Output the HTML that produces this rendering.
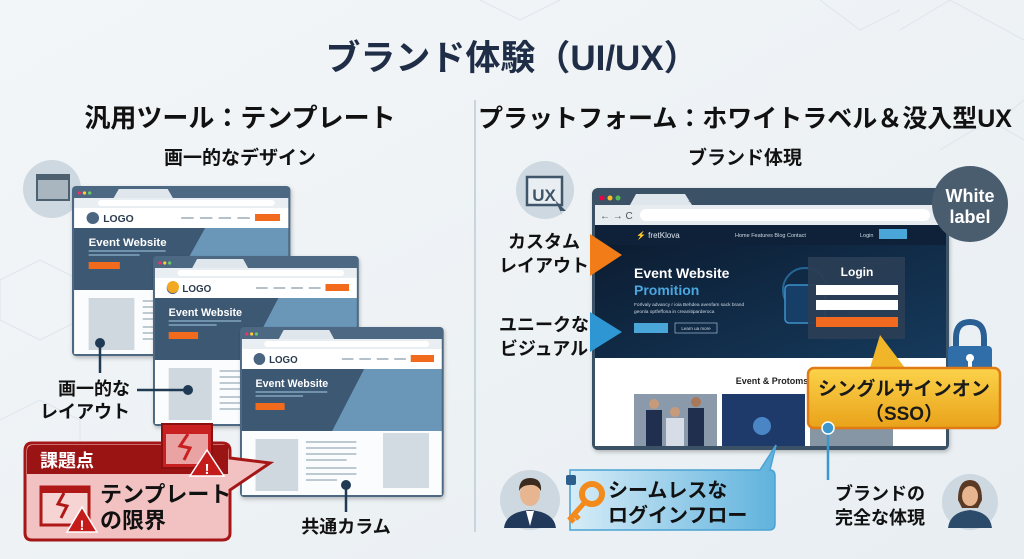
<!DOCTYPE html>
<html><head><meta charset="utf-8"><style>
html,body{margin:0;padding:0;background:#eef3f6;}
svg{display:block;font-family:"Liberation Sans","Noto Sans CJK JP",sans-serif;}
</style></head><body>
<svg width="1024" height="559" viewBox="0 0 1024 559" xmlns="http://www.w3.org/2000/svg">
<defs>
<linearGradient id="bg" x1="0" y1="0" x2="1" y2="1"><stop offset="0" stop-color="#f3f6f8"/><stop offset="1" stop-color="#e8eef2"/></linearGradient>
<linearGradient id="gold" x1="0" y1="0" x2="0" y2="1"><stop offset="0" stop-color="#fbd34a"/><stop offset="1" stop-color="#e9a21a"/></linearGradient>
<linearGradient id="blu" x1="0" y1="0" x2="1" y2="0"><stop offset="0" stop-color="#d6ecf7"/><stop offset="1" stop-color="#5fb2dd"/></linearGradient>
<linearGradient id="hero" x1="0" y1="0" x2="1" y2="1"><stop offset="0" stop-color="#0b1a2e"/><stop offset="1" stop-color="#163a5c"/></linearGradient>
<filter id="sh" x="-10%" y="-10%" width="130%" height="130%"><feDropShadow dx="1" dy="2" stdDeviation="2" flood-color="#000" flood-opacity="0.25"/></filter>
<g id="br">
<rect x="0" y="0" width="210" height="170" rx="4" fill="#4d6882"/>
<path d="M40 12 L45 3 H92 L97 12 Z" fill="#dfe6ec"/>
<circle cx="7" cy="7" r="1.6" fill="#e36"/><circle cx="12" cy="7" r="1.6" fill="#fc3"/><circle cx="17" cy="7" r="1.6" fill="#6c6"/>
<rect x="2" y="12" width="206" height="10" fill="#e9eef2"/>
<rect x="25" y="14" width="170" height="6" rx="3" fill="#fff"/>
<rect x="2" y="22" width="206" height="20" fill="#fff"/>
<circle cx="20" cy="32" r="6" fill="#4a6580"/>
<text x="30" y="36" font-size="10" font-weight="bold" fill="#2a3b4e">LOGO</text>
<g stroke="#9aabb9" stroke-width="1.5"><line x1="105" y1="32" x2="117" y2="32"/><line x1="123" y1="32" x2="135" y2="32"/><line x1="141" y1="32" x2="153" y2="32"/><line x1="159" y1="32" x2="171" y2="32"/></g>
<rect x="176" y="28" width="24" height="7" fill="#f26b1d"/>
<rect x="2" y="42" width="206" height="62" fill="#3d5873"/>
<polygon points="128,42 208,42 208,104 95,104" fill="#6a97b8"/>
<text x="16" y="60" font-size="11" font-weight="bold" fill="#fff">Event Website</text>
<line x1="16" y1="65" x2="90" y2="65" stroke="#8fb3d0" stroke-width="1.2"/>
<line x1="16" y1="69" x2="65" y2="69" stroke="#8fb3d0" stroke-width="1.2"/>
<rect x="16" y="76" width="30" height="7" fill="#f26b1d"/>
<rect x="2" y="104" width="206" height="64" fill="#fbfcfd"/>
<rect x="16" y="112" width="44" height="52" fill="#cfd8df"/>
<g stroke="#9aabb9" stroke-width="1.3"><line x1="68" y1="115" x2="120" y2="115"/><line x1="68" y1="121" x2="120" y2="121"/><line x1="68" y1="127" x2="120" y2="127"/><line x1="68" y1="133" x2="110" y2="133"/><line x1="68" y1="141" x2="120" y2="141"/><line x1="68" y1="147" x2="120" y2="147"/><line x1="68" y1="153" x2="100" y2="153"/></g>
</g>
</defs>
<rect width="1024" height="559" fill="url(#bg)"/>
<g stroke="#dde5eb" stroke-width="1" fill="none">
<path d="M0 280 L40 260 L80 280 L80 320 L40 340 L0 320 Z"/><path d="M0 420 L40 400 L80 420 L80 460 L40 480"/>
<path d="M900 30 L950 0 M950 0 L1024 40 M1000 120 L1024 100 M940 150 L990 120 L1024 140"/>
<path d="M480 0 L520 20 L560 0 M820 0 L860 30 L900 10"/>
</g>
<text x="512" y="70" text-anchor="middle" font-size="35" font-weight="bold" fill="#1f2d47">ブランド体験（UI/UX）</text>
<text x="240" y="127" text-anchor="middle" font-size="26" font-weight="bold" fill="#111">汎用ツール：テンプレート</text>
<text x="240" y="164" text-anchor="middle" font-size="19" font-weight="bold" fill="#111">画一的なデザイン</text>
<text x="745" y="127" text-anchor="middle" font-size="25" font-weight="bold" fill="#111">プラットフォーム：ホワイトラベル＆没入型UX</text>
<text x="745" y="164" text-anchor="middle" font-size="19" font-weight="bold" fill="#111">ブランド体現</text>
<line x1="475" y1="100" x2="475" y2="532" stroke="#c9d5de" stroke-width="2"/>

<circle cx="52" cy="189" r="29" fill="#cdd8e0"/>
<rect x="37" y="175" width="32" height="25" fill="#a9b6c0" stroke="#4d6170" stroke-width="2"/>
<rect x="37" y="175" width="32" height="5" fill="#4d6170"/>
<use href="#br" transform="translate(72,186) scale(1.04,1)" filter="url(#sh)"/>
<use href="#br" transform="translate(153,256) scale(0.98,1)" filter="url(#sh)"/>
<circle cx="173" cy="287" r="6" fill="#f2a921"/>
<use href="#br" transform="translate(240,327) scale(0.97,1)" filter="url(#sh)"/>
<rect x="383" y="433" width="46" height="55" fill="#d3dbe2"/>
<g stroke="#1f3a52" stroke-width="2.5"><line x1="100" y1="343" x2="100" y2="373"/><line x1="137" y1="390" x2="188" y2="390"/><line x1="346" y1="485" x2="346" y2="512"/></g>
<circle cx="100" cy="343" r="5" fill="#1f3a52"/><circle cx="188" cy="390" r="5" fill="#1f3a52"/><circle cx="346" cy="485" r="5" fill="#1f3a52"/>
<text x="130" y="395" text-anchor="end" font-size="18" font-weight="bold" fill="#111">画一的な</text>
<text x="130" y="418" text-anchor="end" font-size="18" font-weight="bold" fill="#111">レイアウト</text>
<text x="346" y="533" text-anchor="middle" font-size="18" font-weight="bold" fill="#111">共通カラム</text>
<path d="M32 443 H222 Q230 443 230 451 V458 L270 463 L230 490 V533 Q230 540 222 540 H32 Q25 540 25 533 V451 Q25 443 32 443 Z" fill="#f2c2c2" stroke="#a51616" stroke-width="3"/>
<path d="M27 451 Q27 445 33 445 H228 V474 H27 Z" fill="#9b1414"/>
<text x="40" y="467" font-size="18" font-weight="bold" fill="#fff">課題点</text>
<rect x="162" y="424" width="50" height="44" fill="#c82020" stroke="#8d1010" stroke-width="2"/>
<rect x="166" y="434" width="42" height="30" fill="#e9a3a3"/>
<path d="M188 434 L180 446 L190 448 L184 460" stroke="#c82020" stroke-width="3" fill="none"/>
<polygon points="207,450 224,476 190,476" fill="#c41b1b" stroke="#fff" stroke-width="1.5"/>
<text x="207" y="474" text-anchor="middle" font-size="15" font-weight="bold" fill="#fff">!</text>
<rect x="41" y="487" width="48" height="38" fill="#f6d4d4" stroke="#b01818" stroke-width="3"/>
<rect x="41" y="487" width="48" height="6" fill="#b01818"/>
<path d="M64 493 L58 504 L67 506 L61 518" stroke="#b01818" stroke-width="3" fill="none"/>
<polygon points="82,507 97,532 67,532" fill="#c41b1b" stroke="#fff" stroke-width="1.5"/>
<text x="82" y="530" text-anchor="middle" font-size="14" font-weight="bold" fill="#fff">!</text>
<text x="100" y="502" font-size="22" font-weight="bold" fill="#111">テンプレート</text>
<text x="100" y="528" font-size="22" font-weight="bold" fill="#111">の限界</text>

<circle cx="545" cy="190" r="29" fill="#cdd8e0"/>
<rect x="527" y="177" width="35" height="28" fill="#e9eef2" stroke="#3f5569" stroke-width="2.5"/>
<text x="544" y="201" text-anchor="middle" font-size="17" font-weight="bold" fill="#3f5569">UX</text>
<path d="M555 200 L566 211 L560 211 L563 217 Z" fill="#3f5569"/>
<text x="544" y="248" text-anchor="middle" font-size="18" font-weight="bold" fill="#111">カスタム</text>
<text x="544" y="272" text-anchor="middle" font-size="18" font-weight="bold" fill="#111">レイアウト</text>
<text x="544" y="331" text-anchor="middle" font-size="18" font-weight="bold" fill="#111">ユニークな</text>
<text x="544" y="355" text-anchor="middle" font-size="18" font-weight="bold" fill="#111">ビジュアル</text>

<g filter="url(#sh)">
<rect x="592" y="188" width="357" height="262" rx="6" fill="#3b5166"/>
</g>
<path d="M630 205 L636 194 H685 L692 205 Z" fill="#dfe6ec"/>
<text x="688" y="203" font-size="8" fill="#555">×</text>
<circle cx="602" cy="198" r="2.5" fill="#e04"/><circle cx="610" cy="198" r="2.5" fill="#fb2"/><circle cx="618" cy="198" r="2.5" fill="#5b5"/>
<rect x="595" y="205" width="351" height="20" fill="#e7ecf0"/>
<text x="600" y="219" font-size="10" fill="#555">← → C</text>
<rect x="640" y="209" width="290" height="12" rx="6" fill="#fff"/>
<rect x="595" y="225" width="351" height="133" fill="url(#hero)"/>
<rect x="595" y="225" width="351" height="20" fill="#0e2139"/>
<text x="636" y="238" font-size="8" fill="#dfe8f0">⚡ fretKlova</text>
<text x="735" y="237" font-size="5.5" fill="#cfd9e4">Home    Features    Blog    Contact</text>
<text x="860" y="237" font-size="5.5" fill="#cfd9e4">Login</text>
<rect x="879" y="229" width="28" height="10" fill="#4aa6d8"/>
<circle cx="805" cy="290" r="22" fill="none" stroke="#2f7fb8" stroke-width="2" opacity="0.7"/>
<rect x="785" y="285" width="40" height="38" rx="4" fill="#173e66" stroke="#3c91cc" stroke-width="1.5"/>
<text x="634" y="278" font-size="14" font-weight="bold" fill="#fff">Event Website</text>
<text x="634" y="295" font-size="14" font-weight="bold" fill="#4ba6df">Promition</text>
<text x="634" y="306" font-size="4.8" fill="#cfd9e4">Forlvaly advancy r ioia Behdea avenfam sack brand</text>
<text x="634" y="313" font-size="4.8" fill="#cfd9e4">geonla optfeffona in creanitiparderoca</text>
<rect x="634" y="323" width="34" height="10" fill="#4aa6d8"/>
<rect x="675" y="323" width="42" height="10" fill="none" stroke="#8fa8c0" stroke-width="0.8"/>
<text x="696" y="330" text-anchor="middle" font-size="4.5" fill="#cfd9e4">Learn ua more</text>
<rect x="808" y="257" width="97" height="82" fill="#2a3e55" opacity="0.95"/>
<text x="857" y="276" text-anchor="middle" font-size="12" font-weight="bold" fill="#fff">Login</text>
<rect x="816" y="285" width="82" height="10" fill="#fff"/>
<rect x="816" y="300" width="82" height="10" fill="#fff"/>
<rect x="816" y="317" width="82" height="10" fill="#f16a1f"/>
<rect x="595" y="358" width="351" height="88" fill="#fff"/>
<text x="772" y="384" text-anchor="middle" font-size="9" font-weight="bold" fill="#222">Event &amp; Protoms</text>
<rect x="634" y="394" width="83" height="52" fill="#8a9aab"/>
<rect x="646" y="410" width="16" height="36" fill="#1f2f4d"/><rect x="688" y="408" width="16" height="38" fill="#1f2f4d"/><rect x="666" y="418" width="18" height="28" fill="#d6dde6"/>
<circle cx="654" cy="404" r="5" fill="#c79a7a"/><circle cx="696" cy="402" r="5" fill="#a9785a"/><circle cx="675" cy="412" r="5" fill="#c79a7a"/>
<rect x="722" y="394" width="83" height="52" fill="#1d3a6a"/>
<circle cx="762" cy="426" r="9" fill="#4a86c6"/>
<rect x="810" y="394" width="83" height="52" fill="#8796a5"/>

<circle cx="970" cy="204" r="38" fill="#4a5d6f"/>
<text x="970" y="202" text-anchor="middle" font-size="18" font-weight="bold" fill="#fff">White</text>
<text x="970" y="223" text-anchor="middle" font-size="18" font-weight="bold" fill="#fff">label</text>
<path d="M956 348 V338 Q956 322 970 322 Q984 322 984 338 V348" fill="none" stroke="#2a5f93" stroke-width="6"/>
<rect x="948" y="346" width="44" height="32" rx="4" fill="#2f6ea8"/>
<circle cx="970" cy="358" r="4" fill="#fff"/><rect x="968" y="360" width="4" height="8" fill="#fff"/>
<path d="M880 335 L905 368 H870 Z" fill="#f1b52a"/>
<rect x="808" y="368" width="192" height="60" rx="6" fill="url(#gold)" stroke="#e07a14" stroke-width="2.5"/>
<text x="904" y="395" text-anchor="middle" font-size="19" font-weight="bold" fill="#1a1a1a" textLength="172" lengthAdjust="spacingAndGlyphs">シングルサインオン</text>
<text x="904" y="420" text-anchor="middle" font-size="19" font-weight="bold" fill="#1a1a1a">（SSO）</text>
<line x1="828" y1="428" x2="828" y2="480" stroke="#3c97cc" stroke-width="2.5"/>
<circle cx="828" cy="428" r="6" fill="#3c97cc" stroke="#fff" stroke-width="1.5"/>
<text x="880" y="500" text-anchor="middle" font-size="18" font-weight="bold" fill="#111">ブランドの</text>
<text x="880" y="524" text-anchor="middle" font-size="18" font-weight="bold" fill="#111">完全な体現</text>
<circle cx="970" cy="502" r="28" fill="#cdd8e0"/>
<path d="M948 528 Q950 512 970 510 Q990 512 992 528 Z" fill="#2c4a6a"/>
<path d="M958 500 Q958 480 970 480 Q982 480 982 500 L978 508 H962 Z" fill="#5a3a24"/>
<ellipse cx="970" cy="496" rx="8" ry="10" fill="#e7b58f"/>

<polygon points="590,234 622,255 590,276" fill="#f27c17"/>
<polygon points="590,312 622,332 590,352" fill="#2f96d4"/>

<path d="M570 470 H760 L776 445 L770 470 Q775 470 775 476 V524 Q775 530 769 530 H570 Z" fill="url(#blu)" stroke="#4ba2d3" stroke-width="1.5"/>
<circle cx="530" cy="500" r="30" fill="#cdd8e0"/>
<path d="M504 528 Q506 512 530 510 Q554 512 556 528 Z" fill="#213a5c"/>
<polygon points="526,511 534,511 530,526" fill="#fff"/>
<ellipse cx="530" cy="494" rx="10" ry="12" fill="#e7b58f"/>
<path d="M519 491 Q519 478 530 478 Q542 478 541 491 Q537 484 530 485 Q522 485 519 491 Z" fill="#3b2a1d"/>
<rect x="566" y="475" width="10" height="10" rx="2" fill="#2d5f8d"/>
<circle cx="592" cy="494" r="10" fill="none" stroke="#f28a1c" stroke-width="6"/>
<path d="M585 502 L569 520 M574 514 L579 519 M570 518 L574 522" stroke="#f28a1c" stroke-width="5" fill="none"/>
<text x="608" y="497" font-size="20" font-weight="bold" fill="#111">シームレスな</text>
<text x="608" y="522" font-size="20" font-weight="bold" fill="#111">ログインフロー</text>
</svg>
</body></html>
